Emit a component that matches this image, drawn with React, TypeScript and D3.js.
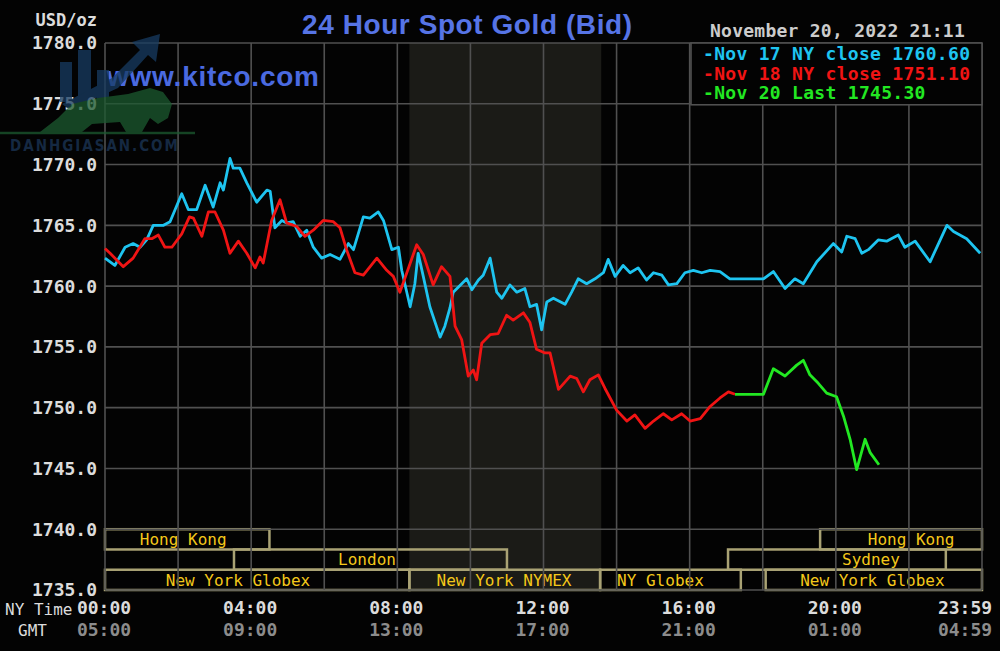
import React, { useRef, useEffect } from 'react';
import * as d3 from 'd3';

// [hour of day, NY time ; bid price USD/oz]
type Pt = [number, number];

const nov17: Pt[] = [
  [0, 1762.3], [0.27, 1761.7], [0.55, 1763.2], [0.77, 1763.5], [0.96, 1763.2], [1.14, 1763.8],
  [1.32, 1765.0], [1.6, 1765.0], [1.78, 1765.3], [2.1, 1767.6], [2.28, 1766.3], [2.51, 1766.3],
  [2.74, 1768.3], [2.96, 1766.5], [3.15, 1768.5], [3.24, 1767.9], [3.42, 1770.5], [3.51, 1769.7],
  [3.69, 1769.7], [3.88, 1768.5], [4.15, 1766.9], [4.43, 1767.9], [4.52, 1767.8], [4.65, 1764.8],
  [4.84, 1765.4], [4.97, 1765.2], [5.15, 1765.3], [5.34, 1764.1], [5.52, 1764.6], [5.7, 1763.2],
  [5.93, 1762.3], [6.16, 1762.6], [6.43, 1762.2], [6.66, 1763.5], [6.8, 1763.0], [7.07, 1765.7],
  [7.25, 1765.6], [7.48, 1766.1], [7.62, 1765.4], [7.85, 1763.0], [8.03, 1763.2], [8.12, 1761.3],
  [8.35, 1758.3], [8.48, 1760.2], [8.57, 1762.7], [8.71, 1760.8], [8.89, 1758.3], [9.17, 1755.8],
  [9.3, 1756.7], [9.44, 1758.2], [9.53, 1759.5], [9.9, 1760.6], [10.04, 1759.7], [10.22, 1760.5],
  [10.35, 1760.9], [10.54, 1762.3], [10.72, 1759.5], [10.86, 1759.0], [11.08, 1760.1], [11.27, 1759.5],
  [11.49, 1759.8], [11.63, 1758.3], [11.81, 1758.5], [11.95, 1756.4], [12.09, 1758.7], [12.27, 1759.0],
  [12.59, 1758.5], [12.77, 1759.5], [12.95, 1760.6], [13.18, 1760.2], [13.41, 1760.6], [13.64, 1761.1],
  [13.77, 1762.2], [13.96, 1760.8], [14.18, 1761.7], [14.37, 1761.1], [14.59, 1761.5], [14.82, 1760.5],
  [15.01, 1761.1], [15.24, 1760.9], [15.42, 1760.1], [15.65, 1760.2], [15.87, 1761.1], [16.1, 1761.3],
  [16.33, 1761.1], [16.56, 1761.3], [16.83, 1761.2], [17.1, 1760.6], [18.02, 1760.6], [18.29, 1761.2],
  [18.61, 1759.8], [18.88, 1760.6], [19.11, 1760.2], [19.48, 1762.0], [19.93, 1763.5], [20.16, 1762.8],
  [20.3, 1764.1], [20.53, 1763.9], [20.71, 1762.7], [20.89, 1763.0], [21.16, 1763.8], [21.39, 1763.7],
  [21.71, 1764.2], [21.89, 1763.2], [22.17, 1763.7], [22.58, 1762.0], [22.81, 1763.5], [23.04, 1765.0],
  [23.22, 1764.5], [23.58, 1763.9], [23.95, 1762.7]
];

const nov18: Pt[] = [
  [0, 1763.1], [0.14, 1762.7], [0.5, 1761.6], [0.77, 1762.3], [1.09, 1763.9], [1.28, 1763.9],
  [1.46, 1764.2], [1.64, 1763.2], [1.83, 1763.2], [2.1, 1764.3], [2.31, 1765.7], [2.42, 1765.6],
  [2.65, 1764.1], [2.83, 1766.1], [3.01, 1766.1], [3.24, 1764.6], [3.42, 1762.7], [3.65, 1763.7],
  [3.88, 1762.7], [4.11, 1761.5], [4.24, 1762.4], [4.33, 1761.9], [4.56, 1765.4], [4.79, 1767.1],
  [4.97, 1765.2], [5.25, 1764.9], [5.47, 1764.1], [5.7, 1764.6], [5.97, 1765.4], [6.25, 1765.3],
  [6.43, 1764.8], [6.61, 1763.0], [6.84, 1761.1], [7.07, 1760.9], [7.44, 1762.3], [7.71, 1761.3],
  [7.89, 1760.8], [8.07, 1759.5], [8.26, 1761.1], [8.53, 1763.4], [8.71, 1762.6], [8.98, 1760.1],
  [9.21, 1761.6], [9.44, 1760.8], [9.58, 1756.7], [9.76, 1755.6], [9.94, 1752.6], [10.08, 1753.1],
  [10.17, 1752.3], [10.31, 1755.3], [10.54, 1756.0], [10.76, 1756.1], [10.99, 1757.6], [11.17, 1757.2],
  [11.45, 1757.8], [11.63, 1757.0], [11.81, 1754.8], [12.04, 1754.5], [12.18, 1754.5], [12.41, 1751.5],
  [12.73, 1752.6], [12.91, 1752.4], [13.09, 1751.3], [13.27, 1752.3], [13.5, 1752.7], [13.68, 1751.6],
  [14.0, 1749.8], [14.28, 1748.9], [14.5, 1749.4], [14.78, 1748.3], [15.01, 1748.9], [15.28, 1749.5],
  [15.51, 1749.0], [15.78, 1749.5], [16.01, 1748.9], [16.29, 1749.1], [16.56, 1750.1], [16.83, 1750.8],
  [17.06, 1751.3], [17.24, 1751.1]
];

const nov20: Pt[] = [
  [17.24, 1751.1], [18.02, 1751.1], [18.29, 1753.2], [18.61, 1752.6], [18.93, 1753.5], [19.11, 1753.9],
  [19.29, 1752.7], [19.52, 1752.0], [19.75, 1751.2], [20.02, 1750.9], [20.21, 1749.3], [20.39, 1747.4],
  [20.57, 1744.9], [20.8, 1747.4], [20.94, 1746.3], [21.18, 1745.3]
];

const priceTicks = [1735, 1740, 1745, 1750, 1755, 1760, 1765, 1770, 1775, 1780];
const gridHours = [0, 2, 4, 6, 8, 10, 12, 14, 16, 18, 20, 22, 24];
const labelHours = [0, 4, 8, 12, 16, 20, 24];
const nyTimeLabels = ['00:00', '04:00', '08:00', '12:00', '16:00', '20:00', '23:59'];
const gmtLabels = ['05:00', '09:00', '13:00', '17:00', '21:00', '01:00', '04:59'];

const legendLabels = ['Nov 17 NY close 1760.60', 'Nov 18 NY close 1751.10', 'Nov 20 Last 1745.30'];
const seriesColors = ['#1ec4f0', '#f01414', '#22e822'];

// NYMEX trading hours, shaded
const nymexHours = [8.33, 13.58];

interface Session { name: string; row: number; start: number; end: number; labelAt: number }
const sessions: Session[] = [
  { name: 'Hong Kong', row: 0, start: 0, end: 4.5, labelAt: 2.14 },
  { name: 'Hong Kong', row: 0, start: 19.57, end: 24, labelAt: 22.06 },
  { name: 'London', row: 1, start: 3.53, end: 11, labelAt: 7.17 },
  { name: 'Sydney', row: 1, start: 17.05, end: 23.01, labelAt: 20.96 },
  { name: 'New York Globex', row: 2, start: 0, end: 8.33, labelAt: 3.64 },
  { name: 'New York NYMEX', row: 2, start: 8.33, end: 13.55, labelAt: 10.92 },
  { name: 'NY Globex', row: 2, start: 13.55, end: 17.4, labelAt: 15.2 },
  { name: 'New York Globex', row: 2, start: 18.08, end: 24, labelAt: 21.0 }
];

const MONO = '"DejaVu Sans Mono", monospace';

const GoldChart: React.FC = () => {
  const svgRef = useRef<SVGSVGElement>(null);

  useEffect(() => {
    if (!svgRef.current) return;
    const svg = d3.select(svgRef.current);
    svg.selectAll('*').remove();

    const width = 1000;
    const height = 651;

    const x = d3.scaleLinear().domain([0, 24]).range([105, 982]);
    const y = d3.scaleLinear().domain([1735, 1780]).range([590, 43]);

    svg.append('rect').attr('width', width).attr('height', height).attr('fill', '#030303');

    // NYMEX shading
    svg.append('rect')
      .attr('x', x(nymexHours[0]))
      .attr('y', y(1780))
      .attr('width', x(nymexHours[1]) - x(nymexHours[0]))
      .attr('height', y(1735) - y(1780))
      .attr('fill', '#1b1b17');

    // trading sessions along the bottom
    const rowH = (y(1735) - y(1740)) / 3;
    const sess = svg.append('g');
    sess.selectAll('rect')
      .data(sessions)
      .enter().append('rect')
      .attr('x', d => x(d.start))
      .attr('y', d => y(1740) + d.row * rowH)
      .attr('width', d => x(d.end) - x(d.start))
      .attr('height', rowH)
      .attr('fill', 'none')
      .attr('stroke', '#a9a274')
      .attr('stroke-width', 2.5);
    sess.selectAll('text')
      .data(sessions)
      .enter().append('text')
      .attr('x', d => x(d.labelAt))
      .attr('y', d => y(1740) + d.row * rowH + rowH / 2)
      .attr('dy', '0.36em')
      .attr('text-anchor', 'middle')
      .attr('fill', '#f4c81a')
      .style('font', `16px ${MONO}`)
      .text(d => d.name);

    // grid
    const grid = svg.append('g').attr('stroke', '#505050').attr('stroke-width', 1.6);
    grid.selectAll('.v')
      .data(gridHours)
      .enter().append('line')
      .attr('x1', d => x(d)).attr('x2', d => x(d))
      .attr('y1', y(1780)).attr('y2', y(1735));
    grid.selectAll('.h')
      .data(priceTicks)
      .enter().append('line')
      .attr('x1', x(0)).attr('x2', x(24))
      .attr('y1', d => y(d)).attr('y2', d => y(d));

    // series
    const line = d3.line<Pt>().x(d => x(d[0])).y(d => y(d[1]));
    [nov17, nov18, nov20].forEach((s, i) => {
      svg.append('path')
        .datum(s)
        .attr('d', line)
        .attr('fill', 'none')
        .attr('stroke', seriesColors[i])
        .attr('stroke-width', 2.8)
        .attr('stroke-linejoin', 'round');
    });

    // y axis labels
    svg.append('g').selectAll('text')
      .data(priceTicks)
      .enter().append('text')
      .attr('x', 97)
      .attr('y', d => y(d))
      .attr('dy', '0.36em')
      .attr('text-anchor', 'end')
      .attr('fill', '#dcdcdc')
      .style('font', `bold 18px ${MONO}`)
      .text(d => d.toFixed(1));
    svg.append('text')
      .attr('x', 97).attr('y', 20).attr('dy', '0.36em')
      .attr('text-anchor', 'end')
      .attr('fill', '#dcdcdc')
      .style('font', `bold 17px ${MONO}`)
      .text('USD/oz');

    // x axis labels
    const xl = svg.append('g');
    xl.selectAll('.ny')
      .data(labelHours)
      .enter().append('text')
      .attr('x', d => Math.min(x(d) - 1, 965))
      .attr('y', 608).attr('dy', '0.36em')
      .attr('text-anchor', 'middle')
      .attr('fill', '#dcdcdc')
      .style('font', `bold 18px ${MONO}`)
      .text((_, i) => nyTimeLabels[i]);
    xl.selectAll('.gmt')
      .data(labelHours)
      .enter().append('text')
      .attr('x', d => Math.min(x(d) - 1, 965))
      .attr('y', 630).attr('dy', '0.36em')
      .attr('text-anchor', 'middle')
      .attr('fill', '#8c8c8c')
      .style('font', `bold 18px ${MONO}`)
      .text((_, i) => gmtLabels[i]);
    xl.append('text')
      .attr('x', 5).attr('y', 609).attr('dy', '0.36em')
      .attr('fill', '#dcdcdc')
      .style('font', `16px ${MONO}`)
      .text('NY Time');
    xl.append('text')
      .attr('x', 18).attr('y', 630).attr('dy', '0.36em')
      .attr('fill', '#dcdcdc')
      .style('font', `16px ${MONO}`)
      .text('GMT');

    // legend
    const lg = svg.append('g');
    lg.append('rect')
      .attr('x', 691).attr('y', y(1780))
      .attr('width', x(24) - 691).attr('height', y(1775) - y(1780) + 1)
      .attr('fill', '#030303')
      .attr('stroke', '#505050')
      .attr('stroke-width', 1.6);
    lg.selectAll('text')
      .data(legendLabels)
      .enter().append('text')
      .attr('x', 703)
      .attr('y', (_, i) => 54 + i * 19.5)
      .attr('dy', '0.36em')
      .attr('fill', (_, i) => seriesColors[i])
      .style('font', `bold 18px ${MONO}`)
      .style('letter-spacing', '0.3px')
      .text(d => '-' + d);

    svg.append('text')
      .attr('x', 710).attr('y', 31).attr('dy', '0.36em')
      .attr('fill', '#cccccc')
      .style('font', `bold 18px ${MONO}`)
      .style('letter-spacing', '0.25px')
      .text('November 20, 2022 21:11');

    // title and site
    svg.append('text')
      .attr('x', 467).attr('y', 34)
      .attr('text-anchor', 'middle')
      .attr('fill', '#5674e6')
      .attr('textLength', 330)
      .style('font', 'bold 28px "Liberation Sans", Arial, sans-serif')
      .text('24 Hour Spot Gold (Bid)');
    svg.append('text')
      .attr('x', 107).attr('y', 86)
      .attr('fill', '#4a6ae0')
      .attr('textLength', 212)
      .style('font', 'bold 28px "Liberation Sans", Arial, sans-serif')
      .text('www.kitco.com');

    // watermark overlay
    const wm = svg.append('g').attr('opacity', 0.75);
    const blue = '#173c62';
    wm.append('rect').attr('x', 60).attr('y', 62).attr('width', 12).attr('height', 40).attr('fill', blue);
    wm.append('rect').attr('x', 78).attr('y', 50).attr('width', 13).attr('height', 52).attr('fill', blue);
    wm.append('rect').attr('x', 97).attr('y', 70).attr('width', 12).attr('height', 32).attr('fill', blue);
    wm.append('path').attr('d', 'M62,104 L112,78 L140,50 L132,42 L160,34 L156,62 L148,55 L118,88 L70,110 Z').attr('fill', blue);
    wm.append('path')
      .attr('d', 'M40,132 L58,118 L72,104 L98,98 L128,94 L150,88 L163,92 L172,104 L168,118 L158,124 L150,118 L142,132 L126,132 L120,122 L92,124 L82,132 Z')
      .attr('fill', '#1c5a30');
    wm.append('line').attr('x1', 0).attr('x2', 195).attr('y1', 133).attr('y2', 133)
      .attr('stroke', '#1c5a30').attr('stroke-width', 2.5);
    wm.append('text')
      .attr('x', 10).attr('y', 151)
      .attr('fill', '#1c3658')
      .attr('textLength', 168)
      .style('font', 'bold 15px "DejaVu Sans Condensed", "DejaVu Sans", sans-serif')
      .text('DANHGIASAN.COM');
  }, []);

  return (
    <div style={{ position: 'absolute', left: 0, top: 0 }}>
      <svg ref={svgRef} width="1000" height="651" style={{ display: 'block' }}></svg>
    </div>
  );
};

export default function App() {
  return <GoldChart />;
}
